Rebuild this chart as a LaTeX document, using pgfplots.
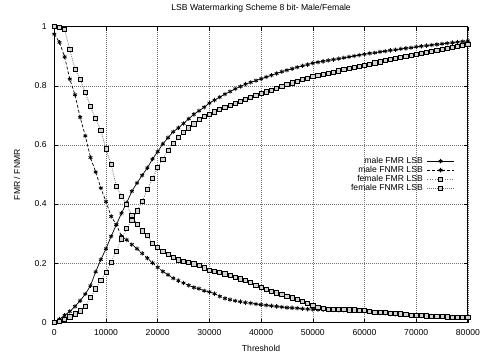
\documentclass[border=0pt]{standalone}
\usepackage{fontspec}
\setmainfont{Liberation Sans}
\usepackage{pgfplots}
\usepackage{pgfplotstable}
\pgfplotsset{compat=1.18}

\pgfplotstableread{
x mfmr mfnmr ffmr ffnmr
0 0.004 0.975 0.002 1.000
1000 0.012 0.947 0.005 0.998
2000 0.025 0.898 0.010 0.990
3000 0.038 0.823 0.020 0.923
4000 0.055 0.770 0.030 0.857
5000 0.074 0.694 0.040 0.823
6000 0.097 0.631 0.056 0.778
7000 0.125 0.558 0.085 0.731
8000 0.172 0.509 0.114 0.689
9000 0.213 0.455 0.143 0.650
10000 0.250 0.409 0.170 0.587
11000 0.292 0.359 0.205 0.535
12000 0.331 0.331 0.242 0.460
13000 0.370 0.292 0.283 0.427
14000 0.405 0.280 0.318 0.400
15000 0.444 0.264 0.345 0.362
16000 0.472 0.250 0.378 0.332
17000 0.498 0.234 0.410 0.310
18000 0.523 0.218 0.450 0.295
19000 0.553 0.202 0.487 0.268
20000 0.578 0.187 0.525 0.254
21000 0.604 0.173 0.553 0.241
22000 0.625 0.162 0.582 0.232
23000 0.645 0.150 0.606 0.222
24000 0.658 0.142 0.626 0.212
25000 0.673 0.134 0.644 0.206
26000 0.689 0.126 0.658 0.203
27000 0.704 0.119 0.672 0.199
28000 0.716 0.115 0.686 0.193
29000 0.728 0.108 0.696 0.185
30000 0.742 0.104 0.704 0.176
31000 0.752 0.098 0.712 0.173
32000 0.762 0.089 0.720 0.170
33000 0.772 0.082 0.727 0.165
34000 0.781 0.078 0.734 0.159
35000 0.790 0.074 0.741 0.152
36000 0.798 0.071 0.748 0.148
37000 0.806 0.068 0.755 0.142
38000 0.812 0.066 0.762 0.136
39000 0.818 0.063 0.768 0.127
40000 0.824 0.061 0.774 0.120
41000 0.830 0.059 0.780 0.113
42000 0.836 0.057 0.786 0.107
43000 0.842 0.055 0.792 0.101
44000 0.848 0.053 0.798 0.095
45000 0.853 0.051 0.804 0.090
46000 0.858 0.050 0.810 0.084
47000 0.863 0.049 0.816 0.078
48000 0.868 0.047 0.821 0.072
49000 0.872 0.046 0.826 0.066
50000 0.877 0.045 0.831 0.058
51000 0.880 0.044 0.835 0.052
52000 0.883 0.044 0.839 0.048
53000 0.886 0.043 0.843 0.046
54000 0.889 0.043 0.847 0.045
55000 0.892 0.042 0.851 0.044
56000 0.895 0.042 0.855 0.044
57000 0.898 0.041 0.858 0.043
58000 0.901 0.041 0.862 0.043
59000 0.904 0.040 0.866 0.042
60000 0.907 0.039 0.870 0.041
61000 0.910 0.037 0.874 0.038
62000 0.912 0.035 0.878 0.036
63000 0.915 0.033 0.881 0.035
64000 0.917 0.032 0.885 0.034
65000 0.920 0.030 0.889 0.032
66000 0.922 0.029 0.893 0.031
67000 0.925 0.028 0.896 0.030
68000 0.927 0.026 0.900 0.028
69000 0.929 0.025 0.903 0.026
70000 0.932 0.024 0.907 0.025
71000 0.934 0.023 0.910 0.024
72000 0.936 0.022 0.914 0.023
73000 0.938 0.022 0.917 0.022
74000 0.940 0.021 0.920 0.021
75000 0.942 0.020 0.924 0.021
76000 0.944 0.020 0.927 0.020
77000 0.946 0.019 0.930 0.019
78000 0.948 0.019 0.934 0.018
79000 0.950 0.018 0.937 0.018
80000 0.952 0.018 0.940 0.017
}\datatable

\newcommand{\lblfont}{\fontsize{8.6}{10}\selectfont}

\begin{document}
\begin{tikzpicture}
\useasboundingbox (-54.3pt,-35.3pt) rectangle (427.7pt,322.7pt);
\begin{axis}[
  scale only axis,
  width=413.6pt, height=296pt,
  at={(0pt,0pt)}, anchor=south west,
  xmin=0, xmax=80000, ymin=0, ymax=1,
  xtick={0,10000,...,80000},
  ytick={0,0.2,0.4,0.6,0.8,1},
  scaled x ticks=false,
  scaled y ticks=false,
  /pgf/number format/1000 sep={},
  /pgf/number format/assume math mode=true,
  tick align=inside,
  major tick length=4pt,
  tick style={black, line width=0.6pt},
  axis line style={black, line width=0.9pt},
  grid=major,
  grid style={black!55, line width=0.5pt, dash pattern=on 1pt off 1pt},
  ticklabel style={font=\lblfont},
  xticklabel style={anchor=base, yshift=-12.8pt, inner sep=0pt},
  yticklabel style={anchor=mid east, xshift=-7.5pt, inner sep=0pt},
  title={LSB Watermarking Scheme 8 bit- Male/Female},
  title style={font=\lblfont, at={(axis description cs:0.5,1)}, anchor=base, yshift=10.2pt, inner sep=0pt},
  xlabel={Threshold},
  xlabel style={font=\lblfont, at={(axis description cs:0.5,0)}, anchor=base, yshift=-28.5pt, inner sep=0pt},
  ylabel={FMR / FNMR},
  ylabel style={font=\lblfont, at={(axis description cs:-0.0829,0.5)}, anchor=base, inner sep=0pt},
  legend plot pos=right,
  legend cell align=right,
  legend image code/.code={\draw[mark repeat=2,mark phase=2,#1] plot coordinates {(0pt,0pt) (13.5pt,0pt) (27pt,0pt)};},
  legend style={draw=none, fill=none, font=\lblfont, at={(axis description cs:0.968,0.5)}, anchor=east, inner sep=0pt,
    row sep=0pt, /tikz/column sep=4pt,
    nodes={inner sep=0pt, text height=6.6pt, text depth=2.4pt}},
]
\addplot[black, line width=0.7pt, mark=asterisk, mark size=2.2pt, mark options={solid, line width=0.8pt}]
  table[x=x, y=mfmr] {\datatable};
\addlegendentry{male FMR LSB}
\addplot[black, line width=0.7pt, dash pattern=on 3pt off 2pt, mark=asterisk, mark size=2.2pt, mark options={solid, line width=0.8pt}]
  table[x=x, y=mfnmr] {\datatable};
\addlegendentry{male FNMR LSB}
\addplot[black!55, line width=0.7pt, dash pattern=on 1pt off 1.5pt, mark=square*, mark size=2.1pt, mark options={solid, draw=black, fill=black!18, line width=0.75pt}]
  table[x=x, y=ffmr] {\datatable};
\addlegendentry{female FMR LSB}
\addplot[black!55, line width=0.7pt, dash pattern=on 1pt off 1pt, mark=square*, mark size=2.1pt, mark options={solid, draw=black, fill=black!18, line width=0.75pt}]
  table[x=x, y=ffnmr] {\datatable};
\addlegendentry{female FNMR LSB}
\end{axis}
\end{tikzpicture}
\end{document}
